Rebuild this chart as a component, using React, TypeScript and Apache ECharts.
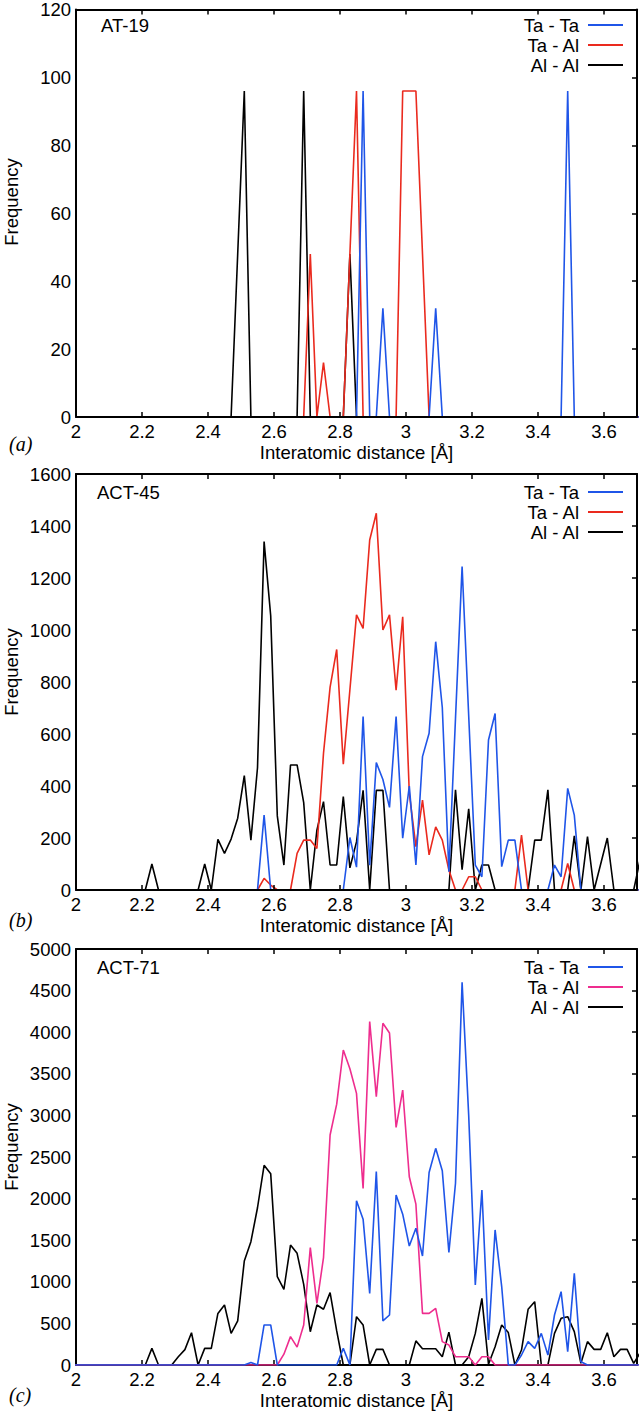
import React, { useEffect, useRef } from "react";
import * as echarts from "echarts";

// Bin centres (Å)
const DIST = [
  1.99, 2.01, 2.03, 2.05, 2.07, 2.09, 2.11, 2.13, 2.15, 2.17,
  2.19, 2.21, 2.23, 2.25, 2.27, 2.29, 2.31, 2.33, 2.35, 2.37,
  2.39, 2.41, 2.43, 2.45, 2.47, 2.49, 2.51, 2.53, 2.55, 2.57,
  2.59, 2.61, 2.63, 2.65, 2.67, 2.69, 2.71, 2.73, 2.75, 2.77,
  2.79, 2.81, 2.83, 2.85, 2.87, 2.89, 2.91, 2.93, 2.95, 2.97,
  2.99, 3.01, 3.03, 3.05, 3.07, 3.09, 3.11, 3.13, 3.15, 3.17,
  3.19, 3.21, 3.23, 3.25, 3.27, 3.29, 3.31, 3.33, 3.35, 3.37,
  3.39, 3.41, 3.43, 3.45, 3.47, 3.49, 3.51, 3.53, 3.55, 3.57,
  3.59, 3.61, 3.63, 3.65, 3.67, 3.69, 3.71,
];

// Panel (a) AT-19
const TATA_A = [
  0, 0, 0, 0, 0, 0, 0, 0, 0, 0,
  0, 0, 0, 0, 0, 0, 0, 0, 0, 0,
  0, 0, 0, 0, 0, 0, 0, 0, 0, 0,
  0, 0, 0, 0, 0, 0, 0, 0, 0, 0,
  0, 0, 0, 0, 96, 0, 0, 32, 0, 0,
  0, 0, 0, 0, 0, 32, 0, 0, 0, 0,
  0, 0, 0, 0, 0, 0, 0, 0, 0, 0,
  0, 0, 0, 0, 0, 96, 0, 0, 0, 0,
  0, 0, 0, 0, 0, 0, 0,
];
const TAAL_A = [
  0, 0, 0, 0, 0, 0, 0, 0, 0, 0,
  0, 0, 0, 0, 0, 0, 0, 0, 0, 0,
  0, 0, 0, 0, 0, 0, 0, 0, 0, 0,
  0, 0, 0, 0, 0, 0, 48, 0, 16, 0,
  0, 0, 48, 96, 0, 0, 0, 0, 0, 0,
  96, 96, 96, 48, 0, 0, 0, 0, 0, 0,
  0, 0, 0, 0, 0, 0, 0, 0, 0, 0,
  0, 0, 0, 0, 0, 0, 0, 0, 0, 0,
  0, 0, 0, 0, 0, 0, 0,
];
const ALAL_A = [
  0, 0, 0, 0, 0, 0, 0, 0, 0, 0,
  0, 0, 0, 0, 0, 0, 0, 0, 0, 0,
  0, 0, 0, 0, 0, 48, 96, 0, 0, 0,
  0, 0, 0, 0, 0, 96, 0, 0, 0, 0,
  0, 0, 48, 0, 0, 0, 0, 0, 0, 0,
  0, 0, 0, 0, 0, 0, 0, 0, 0, 0,
  0, 0, 0, 0, 0, 0, 0, 0, 0, 0,
  0, 0, 0, 0, 0, 0, 0, 0, 0, 0,
  0, 0, 0, 0, 0, 0, 0,
];

// Panel (b) ACT-45
const TATA_B = [
  0, 0, 0, 0, 0, 0, 0, 0, 0, 0,
  0, 0, 0, 0, 0, 0, 0, 0, 0, 0,
  0, 0, 0, 0, 0, 0, 0, 0, 0, 288,
  0, 0, 0, 0, 0, 0, 0, 0, 0, 0,
  0, 0, 202, 88, 667, 95, 490, 425, 318, 667,
  199, 400, 96, 513, 603, 955, 702, 70, 660, 1244,
  670, 96, 51, 577, 679, 90, 192, 192, 0, 0,
  0, 0, 0, 96, 51, 391, 288, 0, 0, 0,
  0, 0, 0, 0, 0, 0, 0,
];
const TAAL_B = [
  0, 0, 0, 0, 0, 0, 0, 0, 0, 0,
  0, 0, 0, 0, 0, 0, 0, 0, 0, 0,
  0, 0, 0, 0, 0, 0, 0, 0, 0, 45,
  19, 0, 0, 0, 141, 192, 192, 160, 526, 780,
  925, 484, 770, 1058, 1006, 1346, 1449, 1000, 1058, 769,
  1051, 372, 167, 346, 135, 243, 192, 77, 0, 0,
  51, 51, 0, 0, 0, 0, 0, 0, 211, 0,
  0, 0, 0, 0, 0, 102, 0, 0, 0, 0,
  0, 0, 0, 0, 0, 0, 0,
];
const ALAL_B = [
  0, 0, 0, 0, 0, 0, 0, 0, 0, 0,
  0, 0, 100, 0, 0, 0, 0, 0, 0, 0,
  100, 0, 195, 141, 196, 276, 440, 192, 470, 1340,
  1055, 285, 96, 481, 481, 336, 0, 230, 340, 96,
  96, 359, 85, 185, 383, 0, 383, 383, 0, 0,
  0, 0, 0, 0, 0, 0, 0, 0, 385, 78,
  312, 0, 96, 96, 0, 0, 0, 0, 0, 0,
  192, 192, 385, 0, 0, 0, 208, 0, 205, 0,
  100, 200, 0, 0, 0, 0, 120,
];

// Panel (c) ACT-71
const TATA_C = [
  0, 0, 0, 0, 0, 0, 0, 0, 0, 0,
  0, 0, 0, 0, 0, 0, 0, 0, 0, 0,
  0, 0, 0, 0, 0, 0, 0, 30, 0, 481,
  481, 0, 0, 0, 0, 0, 0, 0, 0, 0,
  0, 200, 0, 1973, 1753, 861, 2324, 530, 601, 2043,
  1813, 1430, 1643, 1310, 2314, 2604, 2334, 1352, 2184, 4600,
  3000, 962, 2103, 300, 1623, 942, 0, 0, 120, 281,
  200, 380, 120, 601, 881, 160, 1102, 40, 0, 0,
  0, 0, 0, 0, 0, 0, 0,
];
const TAAL_C = [
  0, 0, 0, 0, 0, 0, 0, 0, 0, 0,
  0, 0, 0, 0, 0, 0, 0, 0, 0, 0,
  0, 0, 0, 0, 0, 0, 0, 0, 0, 0,
  0, 0, 130, 341, 215, 481, 1410, 741, 1290, 2764,
  3135, 3786, 3560, 3265, 2123, 4127, 3225, 4107, 3990, 2855,
  3305, 2263, 1933, 621, 621, 681, 281, 240, 100, 100,
  100, 0, 100, 100, 0, 0, 0, 0, 0, 0,
  0, 0, 0, 0, 0, 0, 0, 0, 0, 0,
  0, 0, 0, 0, 0, 0, 0,
];
const ALAL_C = [
  0, 0, 0, 0, 0, 0, 0, 0, 0, 0,
  0, 0, 200, 0, 0, 0, 100, 185, 388, 0,
  200, 200, 620, 721, 380, 530, 1250, 1482, 1890, 2400,
  2300, 1062, 910, 1442, 1342, 970, 400, 721, 670, 870,
  410, 0, 0, 581, 481, 0, 188, 188, 0, 0,
  0, 0, 290, 195, 195, 195, 100, 395, 0, 0,
  100, 380, 801, 10, 220, 481, 390, 0, 180, 669,
  761, 0, 0, 380, 561, 581, 401, 20, 281, 188,
  188, 388, 100, 188, 188, 20, 150,
];

const PANEL_TITLES = ["AT-19", "ACT-45", "ACT-71"];
const PANEL_TAGS = ["(a)", "(b)", "(c)"];
const LEGEND_NAMES = ["Ta - Ta", "Ta - Al", "Al - Al"];
const Y_MAX = [120, 1600, 5000];
const Y_INTERVAL = [20, 200, 500];

const BLUE = "#1f55e8";
const RED = "#ea2a1e";
const PINK = "#ee2d8e";
const BLACK = "#000000";

const PANEL_COLORS = [
  [BLUE, RED, BLACK],
  [BLUE, RED, BLACK],
  [BLUE, PINK, BLACK],
];
const PANEL_DATA = [
  [TATA_A, TAAL_A, ALAL_A],
  [TATA_B, TAAL_B, ALAL_B],
  [TATA_C, TAAL_C, ALAL_C],
];

// layout (px)
const GRID_TOPS = [7, 474, 949];
const GRID_HEIGHTS = [410, 416, 416];
const GRID_LEFT = 76;
const GRID_RIGHT = 2;
const FONT = "Liberation Sans, Arial, Helvetica, sans-serif";

export default function App() {
  const ref = useRef<HTMLDivElement>(null);

  useEffect(() => {
    if (!ref.current) return;
    const chart = echarts.init(ref.current, undefined, { renderer: "svg" });

    const grids: any[] = [];
    const xAxes: any[] = [];
    const yAxes: any[] = [];
    const series: any[] = [];
    const graphics: any[] = [];

    const axisLine = { show: true, onZero: false, lineStyle: { color: "#000", width: 2 } };
    const insideTick = { show: true, inside: true, length: 5, lineStyle: { color: "#000", width: 1.5 } };

    for (let g = 0; g < 3; g++) {
      grids.push({
        left: GRID_LEFT,
        right: GRID_RIGHT,
        top: GRID_TOPS[g],
        height: GRID_HEIGHTS[g],
        containLabel: false,
      });
      xAxes.push({
        gridIndex: g,
        type: "value",
        position: "bottom",
        min: 2,
        max: 3.7,
        interval: 0.2,
        z: g < 2 ? 5 : 0,
        axisLine,
        axisTick: insideTick,
        splitLine: { show: false },
        axisLabel: {
          color: "#000",
          fontSize: 18.5,
          fontFamily: FONT,
          margin: 5,
          formatter: (v: number) => (v > 3.65 ? "" : String(parseFloat(v.toFixed(1)))),
        },
        name: "Interatomic distance [Å]",
        nameLocation: "middle",
        nameGap: 26,
        nameTextStyle: { color: "#000", fontSize: 18.5, fontFamily: FONT },
      });
      xAxes.push({
        gridIndex: g,
        type: "value",
        position: "top",
        min: 2,
        max: 3.7,
        interval: 0.2,
        axisLine,
        axisTick: insideTick,
        splitLine: { show: false },
        axisLabel: { show: false },
      });
      yAxes.push({
        gridIndex: g,
        type: "value",
        position: "left",
        min: 0,
        max: Y_MAX[g],
        interval: Y_INTERVAL[g],
        axisLine,
        axisTick: { show: false },
        splitLine: { show: false },
        axisLabel: {
          color: "#000",
          fontSize: 18.5,
          fontFamily: FONT,
          margin: 5,
          formatter: (v: number) => String(Math.round(v)),
        },
      });
      yAxes.push({
        gridIndex: g,
        type: "value",
        position: "right",
        min: 0,
        max: Y_MAX[g],
        interval: Y_INTERVAL[g],
        axisLine,
        axisTick: insideTick,
        splitLine: { show: false },
        axisLabel: { show: false },
      });

      // series: draw order black, red/pink, blue (blue on top)
      const order = [2, 1, 0];
      order.forEach((k, idx) => {
        const arr = PANEL_DATA[g][k];
        const color = PANEL_COLORS[g][k];
        series.push({
          type: "line",
          name: LEGEND_NAMES[k] + " " + PANEL_TITLES[g],
          xAxisIndex: g * 2,
          yAxisIndex: g * 2,
          data: DIST.map((d, i) => [d, arr[i]]),
          showSymbol: false,
          symbol: "none",
          clip: true,
          z: 2 + idx,
          lineStyle: { color, width: 1.6 },
          itemStyle: { color },
          emphasis: { disabled: true },
        });
      });

      const top = GRID_TOPS[g];
      const bottom = top + GRID_HEIGHTS[g];
      // Panel title
      graphics.push({
        type: "text",
        x: g === 0 ? 101 : 97,
        y: top + 18,
        style: {
          text: PANEL_TITLES[g],
          fill: "#000",
          fontSize: 18.5,
          fontFamily: FONT,
          textAlign: "left",
          textVerticalAlign: "middle",
        },
      });
      // Frequency label
      graphics.push({
        type: "text",
        x: 11,
        y: top + GRID_HEIGHTS[g] / 2 - 10,
        rotation: Math.PI / 2,
        style: {
          text: "Frequency",
          fill: "#000",
          fontSize: 18.5,
          fontFamily: FONT,
          textAlign: "center",
          textVerticalAlign: "middle",
        },
      });
      // Panel tag
      graphics.push({
        type: "text",
        x: 9,
        y: bottom + (g === 0 ? 27 : 30),
        style: {
          text: PANEL_TAGS[g],
          fill: "#000",
          fontSize: 20,
          fontStyle: "italic",
          fontFamily: "Liberation Serif, Times New Roman, serif",
          textAlign: "left",
          textVerticalAlign: "middle",
        },
      });
      // Legend
      for (let k = 0; k < 3; k++) {
        const ly = top + 18 + k * 20;
        graphics.push({
          type: "text",
          x: 579,
          y: ly,
          style: {
            text: LEGEND_NAMES[k],
            fill: "#000",
            fontSize: 18.5,
            fontFamily: FONT,
            textAlign: "right",
            textVerticalAlign: "middle",
          },
        });
        graphics.push({
          type: "line",
          shape: { x1: 588, y1: ly, x2: 623, y2: ly },
          style: { stroke: PANEL_COLORS[g][k], lineWidth: 2 },
        });
      }
    }

    chart.setOption({
      animation: false,
      backgroundColor: "#ffffff",
      grid: grids,
      xAxis: xAxes,
      yAxis: yAxes,
      series,
      graphic: graphics,
    });

    return () => chart.dispose();
  }, []);

  return (
    <div
      ref={ref}
      style={{ position: "absolute", left: 0, top: 0, width: 640, height: 1413, background: "#fff" }}
    />
  );
}
